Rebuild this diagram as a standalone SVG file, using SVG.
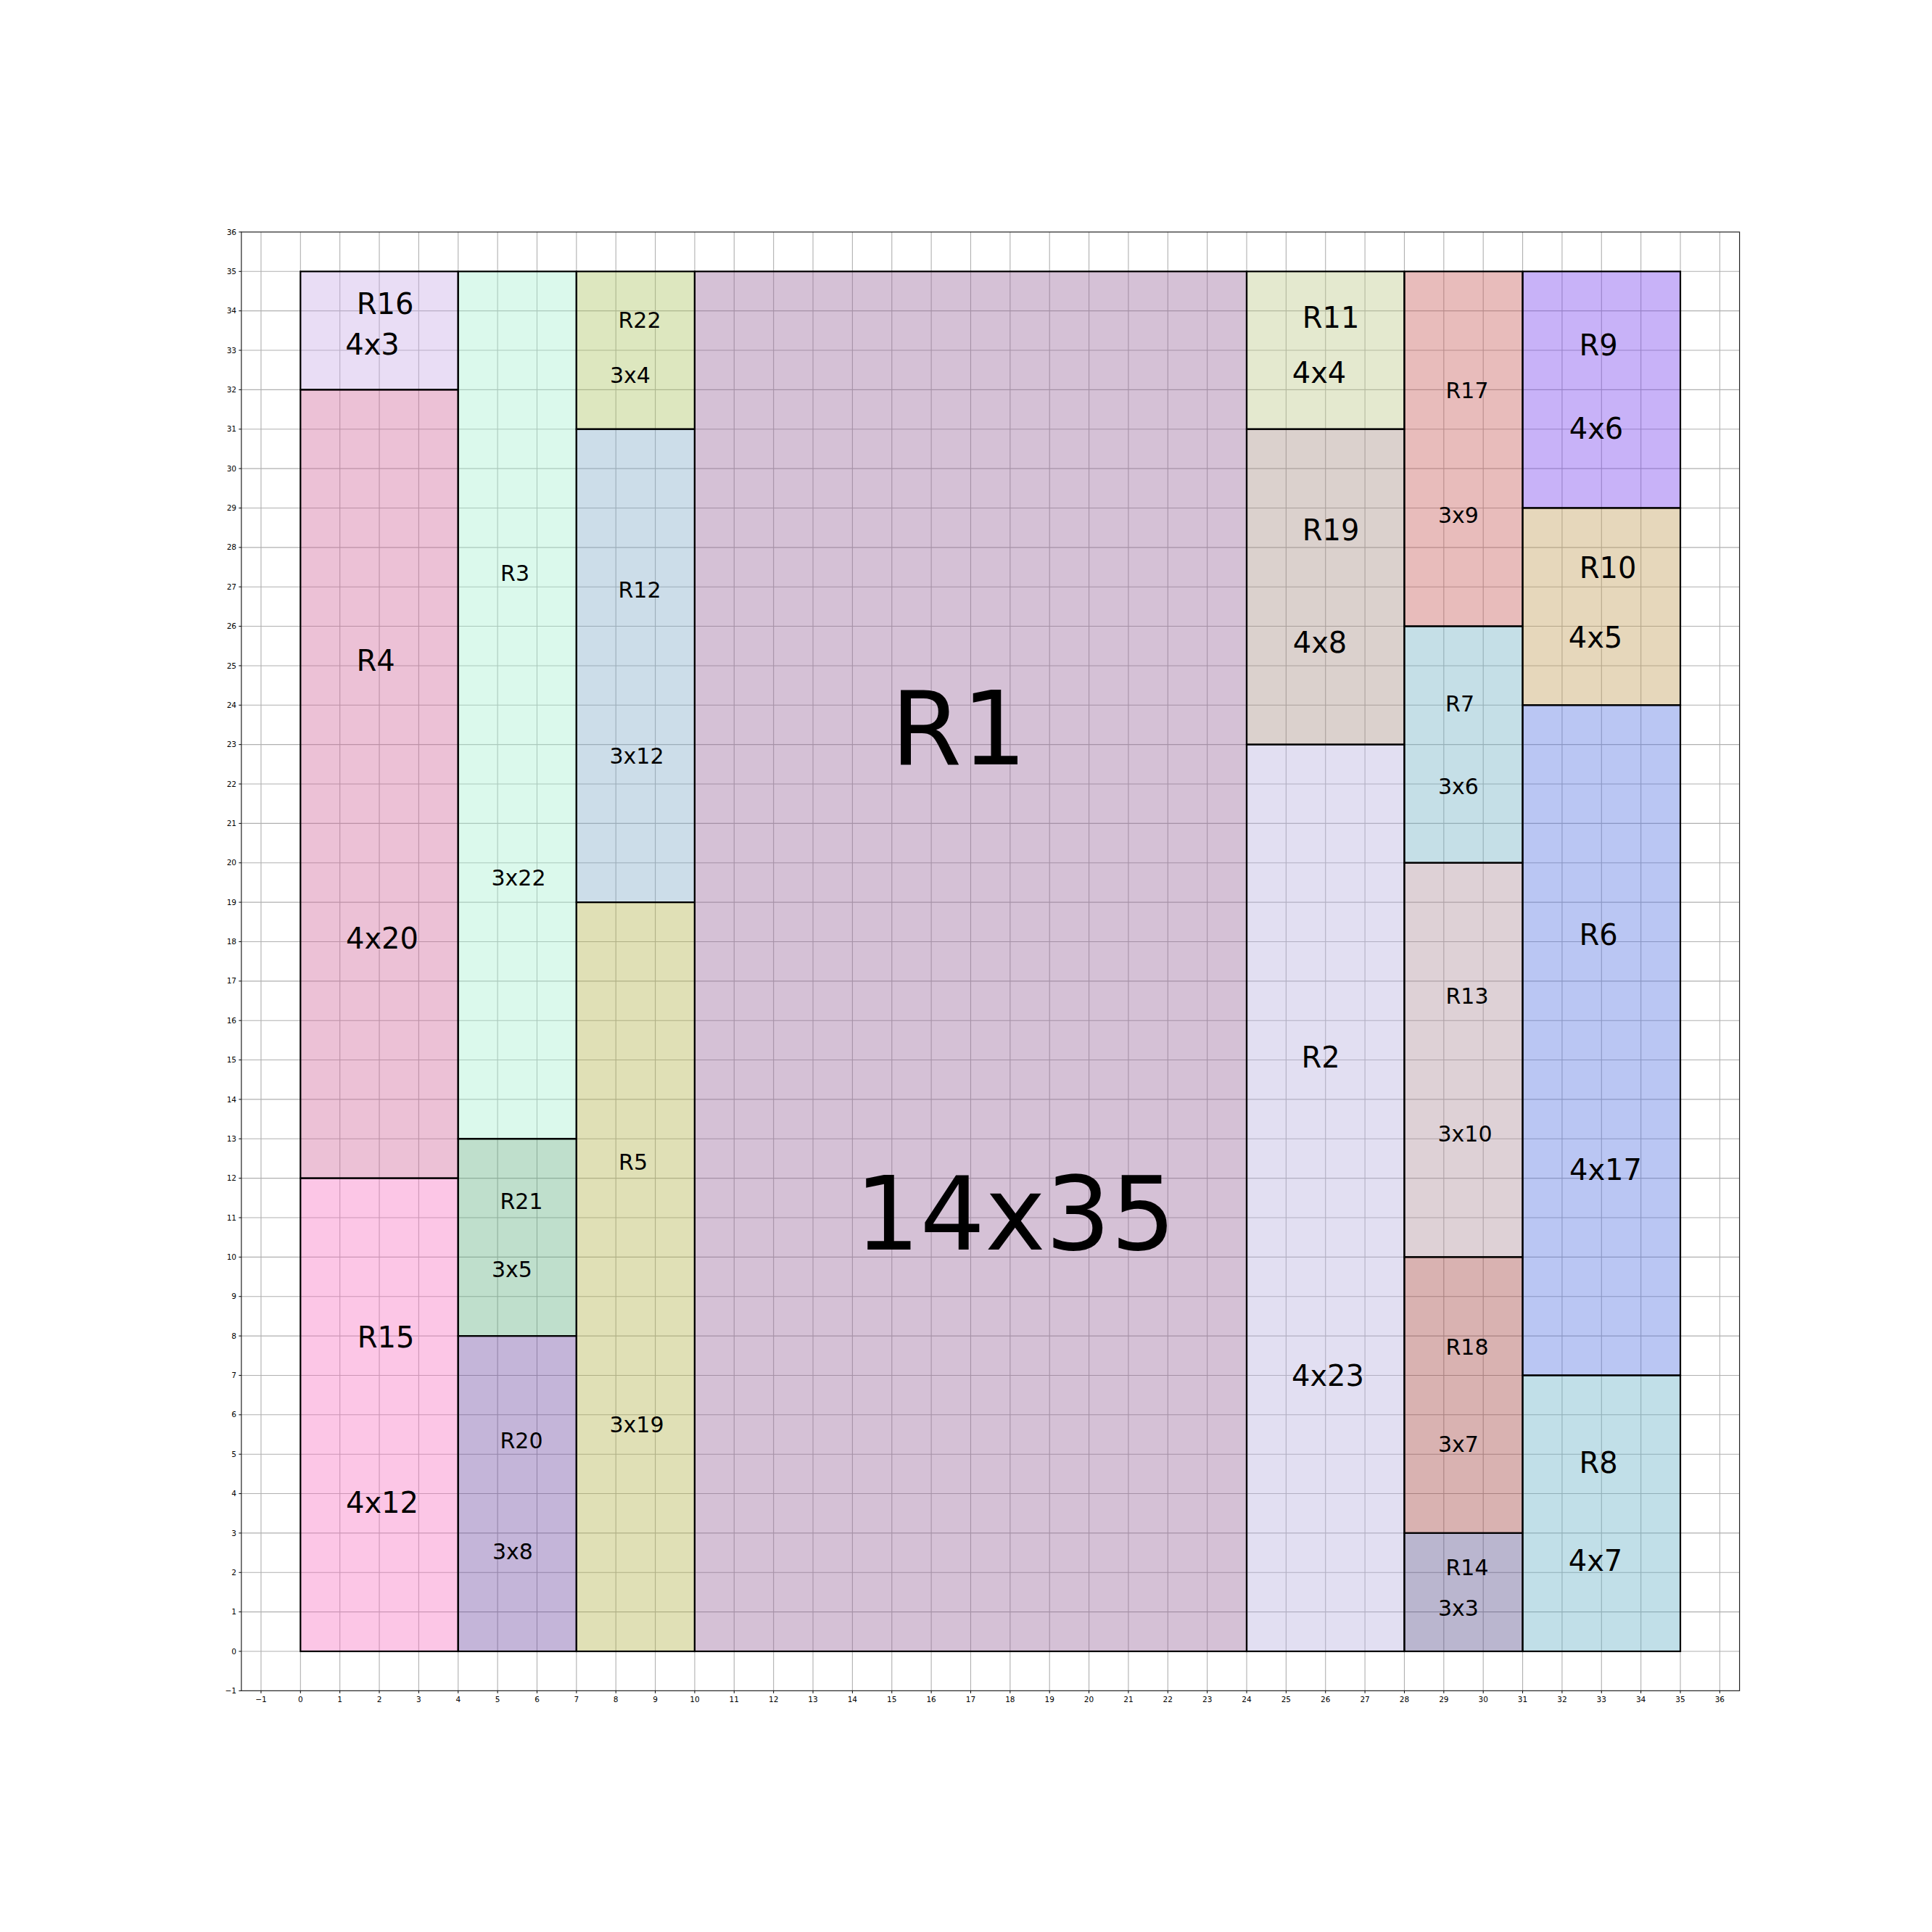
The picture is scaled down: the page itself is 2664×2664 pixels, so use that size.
<svg xmlns="http://www.w3.org/2000/svg" width="2664" height="2664" viewBox="0 0 2664 2664">
<style>
.grid{stroke:#b0b0b0;stroke-width:1.1;fill:none}
.rect{stroke:#000;stroke-width:2.2;fill-opacity:0.4}
.rect-edge{stroke:#000;stroke-width:2.2;fill:none}
.tick{stroke:#000;stroke-width:1;fill:none}
.spine{stroke:#222;stroke-width:1.2;fill:none}
text{font-family:"DejaVu Sans","Liberation Sans",sans-serif;fill:#000;text-anchor:middle}
.tl{font-size:10.5px}
.tly{font-size:10.5px;text-anchor:end}
.l40{font-size:40px}
.l30{font-size:30px}
.big{font-size:141px}
</style>
<rect x="0" y="0" width="2664" height="2664" fill="#fff"/>
<g id="grid">
<path class="grid" d="M359.94 319.93V2331.36M414.3 319.93V2331.36M468.66 319.93V2331.36M523.03 319.93V2331.36M577.39 319.93V2331.36M631.75 319.93V2331.36M686.12 319.93V2331.36M740.48 319.93V2331.36M794.84 319.93V2331.36M849.2 319.93V2331.36M903.57 319.93V2331.36M957.93 319.93V2331.36M1012.29 319.93V2331.36M1066.66 319.93V2331.36M1121.02 319.93V2331.36M1175.38 319.93V2331.36M1229.75 319.93V2331.36M1284.11 319.93V2331.36M1338.47 319.93V2331.36M1392.83 319.93V2331.36M1447.2 319.93V2331.36M1501.56 319.93V2331.36M1555.92 319.93V2331.36M1610.29 319.93V2331.36M1664.65 319.93V2331.36M1719.01 319.93V2331.36M1773.38 319.93V2331.36M1827.74 319.93V2331.36M1882.1 319.93V2331.36M1936.46 319.93V2331.36M1990.83 319.93V2331.36M2045.19 319.93V2331.36M2099.55 319.93V2331.36M2153.92 319.93V2331.36M2208.28 319.93V2331.36M2262.64 319.93V2331.36M2317.01 319.93V2331.36M2371.37 319.93V2331.36"/>
<path class="grid" d="M332.8 2277H2398.6M332.8 2222.64H2398.6M332.8 2168.27H2398.6M332.8 2113.91H2398.6M332.8 2059.55H2398.6M332.8 2005.19H2398.6M332.8 1950.82H2398.6M332.8 1896.46H2398.6M332.8 1842.1H2398.6M332.8 1787.73H2398.6M332.8 1733.37H2398.6M332.8 1679.01H2398.6M332.8 1624.64H2398.6M332.8 1570.28H2398.6M332.8 1515.92H2398.6M332.8 1461.56H2398.6M332.8 1407.19H2398.6M332.8 1352.83H2398.6M332.8 1298.47H2398.6M332.8 1244.1H2398.6M332.8 1189.74H2398.6M332.8 1135.38H2398.6M332.8 1081.01H2398.6M332.8 1026.65H2398.6M332.8 972.29H2398.6M332.8 917.93H2398.6M332.8 863.56H2398.6M332.8 809.2H2398.6M332.8 754.84H2398.6M332.8 700.47H2398.6M332.8 646.11H2398.6M332.8 591.75H2398.6M332.8 537.38H2398.6M332.8 483.02H2398.6M332.8 428.66H2398.6M332.8 374.3H2398.6"/>
</g>
<g id="R16"><rect class="rect" x="414.3" y="374.3" width="217.45" height="163.09" fill="rgb(200,170,230)"/><text class="l40" x="531" y="433">R16</text><text class="l40" x="513.5" y="489">4x3</text></g>
<g id="R4"><rect class="rect" x="414.3" y="537.38" width="217.45" height="1087.26" fill="rgb(208,100,153)"/><text class="l40" x="518" y="925">R4</text><text class="l40" x="527" y="1308">4x20</text></g>
<g id="R15"><rect class="rect" x="414.3" y="1624.64" width="217.45" height="652.36" fill="rgb(248,113,193)"/><text class="l40" x="532" y="1858">R15</text><text class="l40" x="527" y="2086">4x12</text></g>
<g id="R3"><rect class="rect" x="631.75" y="374.3" width="163.09" height="1195.99" fill="rgb(165,240,208)"/><text class="l30" x="710" y="801">R3</text><text class="l30" x="715" y="1221">3x22</text></g>
<g id="R21"><rect class="rect" x="631.75" y="1570.28" width="163.09" height="271.82" fill="rgb(95,175,128)"/><text class="l30" x="719" y="1667">R21</text><text class="l30" x="706" y="1761">3x5</text></g>
<g id="R20"><rect class="rect" x="631.75" y="1842.1" width="163.09" height="434.9" fill="rgb(108,70,160)"/><text class="l30" x="719" y="1997">R20</text><text class="l30" x="707" y="2150">3x8</text></g>
<g id="R22"><rect class="rect" x="794.84" y="374.3" width="163.09" height="217.45" fill="rgb(170,195,95)"/><text class="l30" x="882" y="452">R22</text><text class="l30" x="869" y="528">3x4</text></g>
<g id="R12"><rect class="rect" x="794.84" y="591.75" width="163.09" height="652.36" fill="rgb(128,170,200)"/><text class="l30" x="882" y="824">R12</text><text class="l30" x="878" y="1053">3x12</text></g>
<g id="R5"><rect class="rect" x="794.84" y="1244.1" width="163.09" height="1032.9" fill="rgb(178,178,73)"/><text class="l30" x="873" y="1613">R5</text><text class="l30" x="878" y="1975">3x19</text></g>
<g id="R1"><rect class="rect" x="957.93" y="374.3" width="761.08" height="1902.7" fill="rgb(150,100,153)"/><text class="big" x="1322" y="1054">R1</text><text class="big" x="1400" y="1723">14x35</text></g>
<g id="R11"><rect class="rect" x="1719.01" y="374.3" width="217.45" height="217.45" fill="rgb(188,200,135)"/><text class="l40" x="1835" y="452">R11</text><text class="l40" x="1819" y="528">4x4</text></g>
<g id="R19"><rect class="rect" x="1719.01" y="591.75" width="217.45" height="434.9" fill="rgb(165,140,130)"/><text class="l40" x="1835" y="745">R19</text><text class="l40" x="1820" y="900">4x8</text></g>
<g id="R2"><rect class="rect" x="1719.01" y="1026.65" width="217.45" height="1250.35" fill="rgb(183,175,223)"/><text class="l40" x="1821" y="1472">R2</text><text class="l40" x="1831" y="1911">4x23</text></g>
<g id="R17"><rect class="rect" x="1936.46" y="374.3" width="163.09" height="489.27" fill="rgb(198,88,85)"/><text class="l30" x="2023" y="549">R17</text><text class="l30" x="2011" y="721">3x9</text></g>
<g id="R7"><rect class="rect" x="1936.46" y="863.56" width="163.09" height="326.18" fill="rgb(110,175,195)"/><text class="l30" x="2013" y="981">R7</text><text class="l30" x="2011" y="1095">3x6</text></g>
<g id="R13"><rect class="rect" x="1936.46" y="1189.74" width="163.09" height="543.63" fill="rgb(173,140,153)"/><text class="l30" x="2023" y="1384">R13</text><text class="l30" x="2020" y="1574">3x10</text></g>
<g id="R18"><rect class="rect" x="1936.46" y="1733.37" width="163.09" height="380.54" fill="rgb(160,63,60)"/><text class="l30" x="2023" y="1868">R18</text><text class="l30" x="2011" y="2002">3x7</text></g>
<g id="R14"><rect class="rect" x="1936.46" y="2113.91" width="163.09" height="163.09" fill="rgb(83,73,135)"/><text class="l30" x="2023" y="2172">R14</text><text class="l30" x="2011" y="2228">3x3</text></g>
<g id="R9"><rect class="rect" x="2099.55" y="374.3" width="217.45" height="326.18" fill="rgb(118,63,238)"/><text class="l40" x="2204" y="490">R9</text><text class="l40" x="2201" y="605">4x6</text></g>
<g id="R10"><rect class="rect" x="2099.55" y="700.47" width="217.45" height="271.82" fill="rgb(193,155,85)"/><text class="l40" x="2217" y="797">R10</text><text class="l40" x="2200" y="893">4x5</text></g>
<g id="R6"><rect class="rect" x="2099.55" y="972.29" width="217.45" height="924.17" fill="rgb(83,113,225)"/><text class="l40" x="2204" y="1303">R6</text><text class="l40" x="2214" y="1627">4x17</text></g>
<g id="R8"><rect class="rect" x="2099.55" y="1896.46" width="217.45" height="380.54" fill="rgb(100,175,198)"/><text class="l40" x="2204" y="2031">R8</text><text class="l40" x="2200" y="2166">4x7</text></g>
<g id="axes">
<rect class="spine" x="332.8" y="319.93" width="2065.8" height="2011.43"/>
<path class="tick" d="M359.94 2331.36v3.5M414.3 2331.36v3.5M468.66 2331.36v3.5M523.03 2331.36v3.5M577.39 2331.36v3.5M631.75 2331.36v3.5M686.12 2331.36v3.5M740.48 2331.36v3.5M794.84 2331.36v3.5M849.2 2331.36v3.5M903.57 2331.36v3.5M957.93 2331.36v3.5M1012.29 2331.36v3.5M1066.66 2331.36v3.5M1121.02 2331.36v3.5M1175.38 2331.36v3.5M1229.75 2331.36v3.5M1284.11 2331.36v3.5M1338.47 2331.36v3.5M1392.83 2331.36v3.5M1447.2 2331.36v3.5M1501.56 2331.36v3.5M1555.92 2331.36v3.5M1610.29 2331.36v3.5M1664.65 2331.36v3.5M1719.01 2331.36v3.5M1773.38 2331.36v3.5M1827.74 2331.36v3.5M1882.1 2331.36v3.5M1936.46 2331.36v3.5M1990.83 2331.36v3.5M2045.19 2331.36v3.5M2099.55 2331.36v3.5M2153.92 2331.36v3.5M2208.28 2331.36v3.5M2262.64 2331.36v3.5M2317.01 2331.36v3.5M2371.37 2331.36v3.5"/>
<path class="tick" d="M332.8 2331.36h-3.5M332.8 2277h-3.5M332.8 2222.64h-3.5M332.8 2168.27h-3.5M332.8 2113.91h-3.5M332.8 2059.55h-3.5M332.8 2005.19h-3.5M332.8 1950.82h-3.5M332.8 1896.46h-3.5M332.8 1842.1h-3.5M332.8 1787.73h-3.5M332.8 1733.37h-3.5M332.8 1679.01h-3.5M332.8 1624.64h-3.5M332.8 1570.28h-3.5M332.8 1515.92h-3.5M332.8 1461.56h-3.5M332.8 1407.19h-3.5M332.8 1352.83h-3.5M332.8 1298.47h-3.5M332.8 1244.1h-3.5M332.8 1189.74h-3.5M332.8 1135.38h-3.5M332.8 1081.01h-3.5M332.8 1026.65h-3.5M332.8 972.29h-3.5M332.8 917.93h-3.5M332.8 863.56h-3.5M332.8 809.2h-3.5M332.8 754.84h-3.5M332.8 700.47h-3.5M332.8 646.11h-3.5M332.8 591.75h-3.5M332.8 537.38h-3.5M332.8 483.02h-3.5M332.8 428.66h-3.5M332.8 374.3h-3.5M332.8 319.93h-3.5"/>
<g class="xl">
<text class="tl" x="359.94" y="2347">−1</text><text class="tl" x="414.3" y="2347">0</text><text class="tl" x="468.66" y="2347">1</text><text class="tl" x="523.03" y="2347">2</text><text class="tl" x="577.39" y="2347">3</text><text class="tl" x="631.75" y="2347">4</text><text class="tl" x="686.12" y="2347">5</text><text class="tl" x="740.48" y="2347">6</text><text class="tl" x="794.84" y="2347">7</text><text class="tl" x="849.2" y="2347">8</text><text class="tl" x="903.57" y="2347">9</text><text class="tl" x="957.93" y="2347">10</text><text class="tl" x="1012.29" y="2347">11</text><text class="tl" x="1066.66" y="2347">12</text><text class="tl" x="1121.02" y="2347">13</text><text class="tl" x="1175.38" y="2347">14</text><text class="tl" x="1229.75" y="2347">15</text><text class="tl" x="1284.11" y="2347">16</text><text class="tl" x="1338.47" y="2347">17</text><text class="tl" x="1392.83" y="2347">18</text><text class="tl" x="1447.2" y="2347">19</text><text class="tl" x="1501.56" y="2347">20</text><text class="tl" x="1555.92" y="2347">21</text><text class="tl" x="1610.29" y="2347">22</text><text class="tl" x="1664.65" y="2347">23</text><text class="tl" x="1719.01" y="2347">24</text><text class="tl" x="1773.38" y="2347">25</text><text class="tl" x="1827.74" y="2347">26</text><text class="tl" x="1882.1" y="2347">27</text><text class="tl" x="1936.46" y="2347">28</text><text class="tl" x="1990.83" y="2347">29</text><text class="tl" x="2045.19" y="2347">30</text><text class="tl" x="2099.55" y="2347">31</text><text class="tl" x="2153.92" y="2347">32</text><text class="tl" x="2208.28" y="2347">33</text><text class="tl" x="2262.64" y="2347">34</text><text class="tl" x="2317.01" y="2347">35</text><text class="tl" x="2371.37" y="2347">36</text>
</g>
<g class="yl">
<text class="tly" x="326" y="2335">−1</text><text class="tly" x="326" y="2280.6">0</text><text class="tly" x="326" y="2226.2">1</text><text class="tly" x="326" y="2171.9">2</text><text class="tly" x="326" y="2117.5">3</text><text class="tly" x="326" y="2063.2">4</text><text class="tly" x="326" y="2008.8">5</text><text class="tly" x="326" y="1954.4">6</text><text class="tly" x="326" y="1900.1">7</text><text class="tly" x="326" y="1845.7">8</text><text class="tly" x="326" y="1791.3">9</text><text class="tly" x="326" y="1737">10</text><text class="tly" x="326" y="1682.6">11</text><text class="tly" x="326" y="1628.2">12</text><text class="tly" x="326" y="1573.9">13</text><text class="tly" x="326" y="1519.5">14</text><text class="tly" x="326" y="1465.2">15</text><text class="tly" x="326" y="1410.8">16</text><text class="tly" x="326" y="1356.4">17</text><text class="tly" x="326" y="1302.1">18</text><text class="tly" x="326" y="1247.7">19</text><text class="tly" x="326" y="1193.3">20</text><text class="tly" x="326" y="1139">21</text><text class="tly" x="326" y="1084.6">22</text><text class="tly" x="326" y="1030.3">23</text><text class="tly" x="326" y="975.9">24</text><text class="tly" x="326" y="921.5">25</text><text class="tly" x="326" y="867.2">26</text><text class="tly" x="326" y="812.8">27</text><text class="tly" x="326" y="758.4">28</text><text class="tly" x="326" y="704.1">29</text><text class="tly" x="326" y="649.7">30</text><text class="tly" x="326" y="595.4">31</text><text class="tly" x="326" y="541">32</text><text class="tly" x="326" y="486.6">33</text><text class="tly" x="326" y="432.3">34</text><text class="tly" x="326" y="377.9">35</text><text class="tly" x="326" y="323.5">36</text>
</g>
</g>
</svg>
